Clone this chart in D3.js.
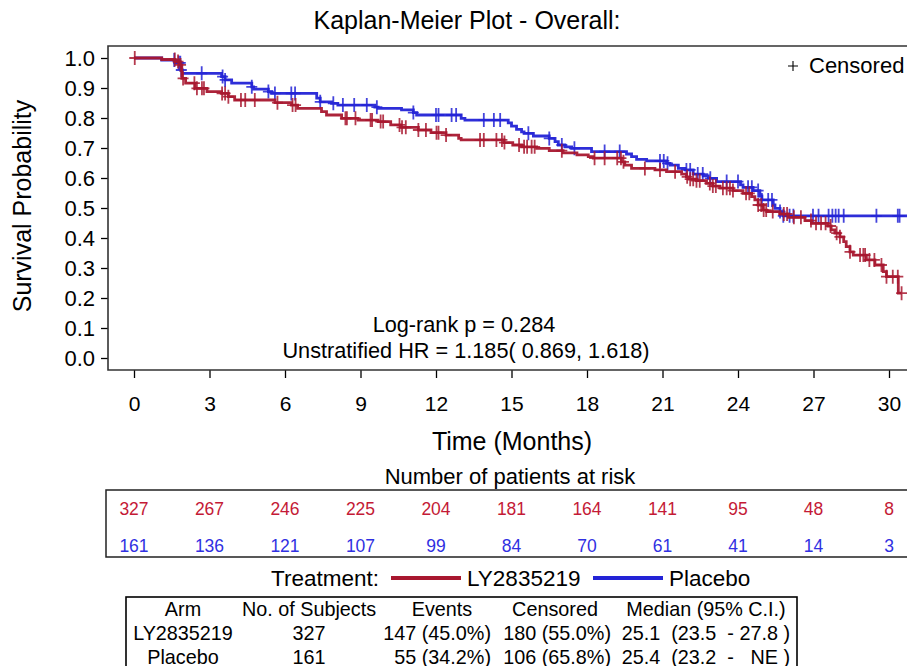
<!DOCTYPE html>
<html>
<head>
<meta charset="utf-8">
<script src="https://cdn.jsdelivr.net/npm/d3@7"></script>
<style>
  html, body { margin: 0; padding: 0; background: #fff; }
  svg { display: block; font-family: "Liberation Sans", Arial, Helvetica, sans-serif; }
  text { white-space: pre; }
</style>
</head>
<body>
<svg id="chart" width="907" height="666"></svg>
<script>
// Kaplan-Meier step estimates: event times (months) and survival after each step
const redT = [0, 1.10, 1.63, 1.83, 1.90, 2.05, 2.42, 2.90, 3.48, 3.75, 4.00, 5.60, 6.26, 6.50, 7.45, 7.65, 8.25, 8.90, 9.70, 10.20, 10.60, 11.30, 11.80, 12.40, 12.90, 13.00, 14.70, 15.05, 15.40, 16.00, 16.50, 17.05, 17.60, 18.05, 18.25, 19.37, 19.50, 19.77, 20.70, 21.16, 21.76, 21.95, 22.05, 22.35, 22.75, 23.00, 23.28, 23.80, 24.20, 24.54, 24.67, 24.80, 25.00, 25.14, 25.67, 26.00, 26.66, 26.92, 27.58, 27.70, 27.85, 28.05, 28.20, 28.30, 28.45, 28.58, 29.10, 29.44, 29.77, 29.90, 30.37];
const redS = [1.000, 0.995, 0.988, 0.977, 0.932, 0.916, 0.899, 0.888, 0.882, 0.871, 0.860, 0.851, 0.843, 0.832, 0.821, 0.810, 0.799, 0.793, 0.788, 0.777, 0.769, 0.760, 0.751, 0.743, 0.732, 0.727, 0.718, 0.710, 0.704, 0.699, 0.691, 0.684, 0.677, 0.671, 0.666, 0.654, 0.643, 0.632, 0.627, 0.621, 0.613, 0.604, 0.596, 0.591, 0.582, 0.573, 0.566, 0.558, 0.549, 0.538, 0.527, 0.510, 0.493, 0.488, 0.480, 0.469, 0.458, 0.449, 0.440, 0.427, 0.416, 0.404, 0.388, 0.371, 0.354, 0.343, 0.327, 0.310, 0.288, 0.271, 0.216];
const redEnd = 30.50;
const redCens = [0.03, 1.62, 1.75, 1.85, 1.95, 2.40, 2.50, 2.70, 2.78, 3.50, 3.62, 3.75, 4.25, 4.42, 4.80, 5.70, 6.30, 6.42, 8.40, 8.46, 8.80, 9.40, 9.46, 9.80, 9.90, 10.55, 10.65, 10.80, 11.30, 11.60, 12.02, 12.10, 12.40, 13.75, 13.90, 14.40, 14.62, 14.72, 15.30, 15.50, 15.62, 15.80, 15.92, 17.00, 18.30, 18.70, 19.20, 19.35, 19.45, 20.30, 20.90, 21.50, 21.98, 22.10, 22.22, 22.35, 22.48, 22.88, 23.00, 23.12, 23.40, 23.55, 23.68, 23.80, 24.32, 24.45, 24.80, 24.92, 25.02, 25.12, 25.38, 25.82, 25.95, 26.22, 26.50, 26.90, 27.10, 27.30, 27.48, 27.68, 27.92, 28.05, 28.45, 28.85, 28.98, 29.05, 29.22, 29.42, 29.70, 29.90, 30.15, 30.35, 30.50];

const blueT = [0, 1.10, 1.63, 1.86, 1.92, 3.48, 3.62, 3.88, 4.68, 4.75, 5.34, 5.47, 7.26, 7.40, 7.85, 8.10, 9.57, 9.70, 10.63, 11.10, 11.23, 13.00, 13.15, 14.87, 15.00, 15.20, 15.40, 15.50, 15.87, 16.50, 16.73, 16.86, 17.12, 17.39, 18.18, 19.57, 19.77, 19.97, 20.37, 21.16, 21.30, 21.63, 21.90, 22.22, 22.62, 22.82, 23.15, 24.10, 24.20, 24.60, 24.87, 24.95, 25.40, 25.47, 25.67, 25.80];
const blueS = [1.000, 0.993, 0.984, 0.960, 0.949, 0.938, 0.927, 0.916, 0.904, 0.896, 0.888, 0.882, 0.866, 0.854, 0.849, 0.843, 0.836, 0.832, 0.827, 0.818, 0.810, 0.799, 0.793, 0.784, 0.773, 0.762, 0.754, 0.749, 0.740, 0.732, 0.721, 0.710, 0.704, 0.699, 0.688, 0.680, 0.671, 0.662, 0.657, 0.649, 0.643, 0.632, 0.627, 0.613, 0.607, 0.599, 0.588, 0.577, 0.569, 0.558, 0.540, 0.527, 0.510, 0.499, 0.488, 0.474];
const blueEnd = 31.0;
const blueCens = [1.60, 1.78, 1.84, 1.88, 2.69, 3.52, 3.62, 4.68, 5.34, 5.60, 6.25, 6.40, 7.40, 7.92, 8.30, 8.75, 9.25, 9.65, 11.10, 12.00, 12.10, 12.62, 12.80, 13.90, 14.30, 14.55, 15.67, 16.50, 17.00, 17.50, 18.70, 19.30, 20.90, 21.05, 21.20, 21.95, 22.10, 22.40, 22.60, 22.90, 23.55, 24.00, 24.40, 24.55, 24.80, 24.95, 25.20, 25.35, 25.67, 25.80, 26.05, 26.20, 26.98, 27.20, 27.60, 27.75, 27.88, 28.00, 28.20, 29.50, 30.35, 30.42];

// Axis ticks
const xTicks = [0, 3, 6, 9, 12, 15, 18, 21, 24, 27, 30];
const yTicks = [0, 0.1, 0.2, 0.3, 0.4, 0.5, 0.6, 0.7, 0.8, 0.9, 1.0];

// Number at risk at each x tick
const riskRed = [327, 267, 246, 225, 204, 181, 164, 141, 95, 48, 8];
const riskBlue = [161, 136, 121, 107, 99, 84, 70, 61, 41, 14, 3];

// Summary table
const tableHead = ["Arm", "No. of Subjects", "Events", "Censored", "Median (95% C.I.)"];
const arms = ["LY2835219", "Placebo"];
const nSubjects = ["327", "161"];
const events = ["147 (45.0%)", " 55 (34.2%)"];
const censored = ["180 (55.0%)", "106 (65.8%)"];
const medians = ["25.1  (23.5  - 27.8 )", "25.4  (23.2  -   NE )"];

const RED = "#a8172f", BLUE = "#2323d6";
const RED_TXT = "#c41a36", BLUE_TXT = "#3030e2";

const svg = d3.select("#chart");

const frame = { left: 108, top: 46, right: 940, bottom: 370 };
const x = d3.scaleLinear().domain([0, 30]).range([134, 889]);
const y = d3.scaleLinear().domain([0, 1]).range([358, 58]);

// Title
svg.append("text").attr("x", 467).attr("y", 29).attr("text-anchor", "middle")
  .attr("font-size", 25).text("Kaplan-Meier Plot - Overall:");

// Clip for curves
svg.append("clipPath").attr("id", "plotclip").append("rect")
  .attr("x", frame.left).attr("y", frame.top)
  .attr("width", frame.right - frame.left).attr("height", frame.bottom - frame.top);

// Y axis
const yAxis = svg.append("g").attr("transform", `translate(${frame.left},0)`)
  .call(d3.axisLeft(y).tickValues(yTicks).tickFormat(d3.format(".1f")).tickSize(7).tickPadding(6));
yAxis.select(".domain").remove();
yAxis.selectAll("text").attr("font-size", 22).attr("font-family", null).attr("fill", "#000");
yAxis.selectAll("line").attr("stroke", "#000").attr("stroke-width", 1.3);

// X axis
const xAxis = svg.append("g").attr("transform", `translate(0,${frame.bottom})`)
  .call(d3.axisBottom(x).tickValues(xTicks).tickFormat(d3.format("d")).tickSize(8).tickPadding(18));
xAxis.select(".domain").remove();
xAxis.selectAll("text").attr("font-size", 21).attr("font-family", null).attr("fill", "#000");
xAxis.selectAll("line").attr("stroke", "#000").attr("stroke-width", 1.3);

// Axis labels
svg.append("text").attr("x", 512).attr("y", 450).attr("text-anchor", "middle")
  .attr("font-size", 25).text("Time (Months)");
svg.append("text").attr("transform", "translate(31,206) rotate(-90)").attr("text-anchor", "middle")
  .attr("font-size", 25).text("Survival Probability");

// Curves
const stepLine = d3.line().x(d => x(d[0])).y(d => y(d[1])).curve(d3.curveStepAfter);
function pts(T, S, end) {
  const p = T.map((t, i) => [t, S[i]]);
  p.push([end, S[S.length - 1]]);
  return p;
}
function survAt(T, S, t) {
  let s = S[0];
  for (let i = 0; i < T.length; i++) { if (T[i] <= t) s = S[i]; else break; }
  return s;
}
const curves = svg.append("g").attr("clip-path", "url(#plotclip)");
const armData = [
  { T: redT, S: redS, end: redEnd, cens: redCens, color: RED },
  { T: blueT, S: blueS, end: blueEnd, cens: blueCens, color: BLUE }
];
// placebo first so LY2835219 stays on top where they overlap at the start
[armData[1], armData[0]].forEach(a => {
  curves.append("path").datum(pts(a.T, a.S, a.end))
    .attr("d", stepLine).attr("fill", "none").attr("stroke", a.color)
    .attr("stroke-width", 2.8).attr("stroke-opacity", 0.95);
  const g = curves.append("g");
  a.cens.forEach(t => {
    const cx = x(t), cy = y(survAt(a.T, a.S, t));
    g.append("path").attr("d", `M${cx - 5.5},${cy}H${cx + 5.5}M${cx},${cy - 7}V${cy + 7}`)
      .attr("stroke", a.color).attr("stroke-width", 1.8).attr("fill", "none").attr("stroke-opacity", 0.85);
  });
});

// Frame
svg.append("path")
  .attr("d", `M${frame.right},${frame.top}H${frame.left}V${frame.bottom}H${frame.right}`)
  .attr("fill", "none").attr("stroke", "#333").attr("stroke-width", 1.6);

// Censored legend
svg.append("path").attr("d", "M788,66H798M793,61V71").attr("stroke", "#000").attr("stroke-width", 1.1);
svg.append("text").attr("x", 809).attr("y", 73).attr("font-size", 22).text("Censored");

// Test statistics
svg.append("text").attr("x", 464).attr("y", 332).attr("text-anchor", "middle")
  .attr("font-size", 21.7).text("Log-rank p = 0.284");
svg.append("text").attr("x", 466).attr("y", 358).attr("text-anchor", "middle")
  .attr("font-size", 21.7).text("Unstratified HR = 1.185( 0.869, 1.618)");

// Number at risk
svg.append("text").attr("x", 510).attr("y", 484).attr("text-anchor", "middle")
  .attr("font-size", 22).text("Number of patients at risk");
svg.append("path").attr("d", "M940,490H106V557H940")
  .attr("fill", "none").attr("stroke", "#222").attr("stroke-width", 1.5);
const risk = svg.append("g").attr("font-size", 17.5).attr("text-anchor", "middle");
risk.selectAll("text.r").data(riskRed).join("text").attr("class", "r")
  .attr("x", (d, i) => x(xTicks[i])).attr("y", 515).attr("fill", RED_TXT).text(d => d);
risk.selectAll("text.b").data(riskBlue).join("text").attr("class", "b")
  .attr("x", (d, i) => x(xTicks[i])).attr("y", 552).attr("fill", BLUE_TXT).text(d => d);

// Treatment legend
const leg = svg.append("g").attr("font-size", 22.5);
leg.append("text").attr("x", 379).attr("y", 586).attr("text-anchor", "end").text("Treatment:");
leg.append("line").attr("x1", 391).attr("x2", 461).attr("y1", 578).attr("y2", 578)
  .attr("stroke", RED).attr("stroke-width", 4);
leg.append("text").attr("x", 467).attr("y", 586).text(arms[0]);
leg.append("line").attr("x1", 593).attr("x2", 663).attr("y1", 578).attr("y2", 578)
  .attr("stroke", BLUE).attr("stroke-width", 4);
leg.append("text").attr("x", 669).attr("y", 586).text(arms[1]);

// Summary table
svg.append("rect").attr("x", 126).attr("y", 597).attr("width", 671).attr("height", 90)
  .attr("fill", "none").attr("stroke", "#000").attr("stroke-width", 1.6);
const tbl = svg.append("g").attr("font-size", 19.8);
const colX = [183, 309, 442, 555, 706];
tableHead.forEach((h, i) => {
  tbl.append("text").attr("x", colX[i]).attr("y", 616).attr("text-anchor", "middle").text(h);
});
arms.forEach((a, r) => {
  const yy = 640 + r * 23.5;
  tbl.append("text").attr("x", 183).attr("y", yy).attr("text-anchor", "middle").text(a);
  tbl.append("text").attr("x", 309).attr("y", yy).attr("text-anchor", "middle").text(nSubjects[r]);
  tbl.append("text").attr("x", 491).attr("y", yy).attr("text-anchor", "end").text(events[r]);
  tbl.append("text").attr("x", 611).attr("y", yy).attr("text-anchor", "end").text(censored[r]);
  tbl.append("text").attr("x", 790).attr("y", yy).attr("text-anchor", "end").text(medians[r]);
});
</script>
</body>
</html>
